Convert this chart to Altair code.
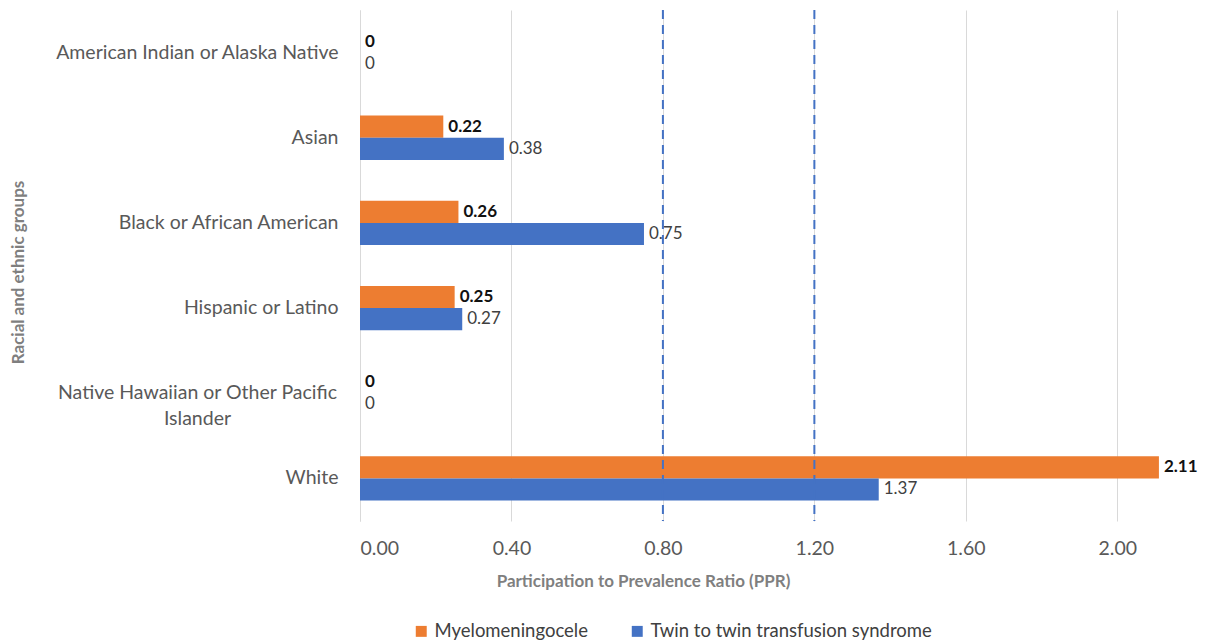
import altair as alt
import pandas as pd

groups = ["American Indian or Alaska Native", "Asian", "Black or African American",
          "Hispanic or Latino", "Native Hawaiian or Other Pacific Islander", "White"]
mmc = [0, 0.22, 0.26, 0.25, 0, 2.11]
ttts = [0, 0.38, 0.75, 0.27, 0, 1.37]
series = ["Myelomeningocele", "Twin to twin transfusion syndrome"]
colors = ["#ED7D31", "#4472C4"]
ref_lines = [0.8, 1.2]
x_ticks = [0, 0.4, 0.8, 1.2, 1.6, 2.0]

def fmt(v):
    return "0" if v == 0 else f"{v:.2f}"

rows = []
for g, a, b in zip(groups, mmc, ttts):
    rows.append({"group": g, "series": series[0], "value": a, "label": fmt(a)})
    rows.append({"group": g, "series": series[1], "value": b, "label": fmt(b)})
df = pd.DataFrame(rows)
ref_df = pd.DataFrame({"x": ref_lines})

FONT = "Lato"
NHPI = groups[4]

y_enc = alt.Y("group:N", sort=groups, title="Racial and ethnic groups",
              scale=alt.Scale(paddingInner=0.48, paddingOuter=0.24),
              axis=alt.Axis(
                  labelFontSize=19.5, labelColor="#595959", labelFont=FONT, labelLimit=0,
                  labelExpr=f"datum.value == '{NHPI}' ? ['Native Hawaiian or Other Pacific', 'Islander'] : datum.value",
                  labelAlign={"condition": {"test": f"datum.value == '{NHPI}'", "value": "center"}, "value": "right"},
                  labelPadding={"condition": {"test": f"datum.value == '{NHPI}'", "value": 163}, "value": 22},
                  labelLineHeight=26,
                  ticks=False, domain=True, domainColor="#D9D9D9", grid=False,
                  titleFont=FONT, titleFontSize=17, titleFontWeight="bold", titleColor="#7F7F7F",
                  titleX=-342, titleY=262, titleAngle=-90, titleAlign="center", titleBaseline="middle"))

x_scale = alt.Scale(domain=[0, 2.2], nice=False)
x_enc = alt.X("value:Q", scale=x_scale, title="Participation to Prevalence Ratio (PPR)",
              axis=alt.Axis(values=x_ticks, format=".2f", labelFontSize=19.5, labelColor="#595959",
                            labelFont=FONT, labelPadding=18, ticks=False, domain=False,
                            grid=True, gridColor="#D9D9D9",
                            titleFont=FONT, titleFontSize=17, titleFontWeight="bold",
                            titleColor="#7F7F7F", titleX=283, titleY=60,
                            titleAlign="center", titleBaseline="middle"))

bars = alt.Chart(df).mark_bar().encode(
    x=x_enc, y=y_enc,
    yOffset=alt.YOffset("series:N", sort=series),
    color=alt.Color("series:N", sort=series, scale=alt.Scale(domain=series, range=colors),
                    legend=alt.Legend(title=None, orient="none", direction="horizontal",
                                      legendX=52, legendY=612, symbolType="square",
                                      symbolSize=120, symbolStrokeWidth=0, labelFont=FONT,
                                      labelFontSize=18.5, labelColor="#404040", labelLimit=0,
                                      columnPadding=40, labelOffset=4)),
)

def label_layer(s, weight, color):
    return alt.Chart(df).transform_filter(alt.datum.series == s).mark_text(
        align="left", baseline="middle", dx=5, font=FONT, fontSize=17,
        fontWeight=weight, color=color
    ).encode(
        x=alt.X("value:Q", scale=x_scale),
        y=alt.Y("group:N", sort=groups),
        yOffset=alt.YOffset("series:N", sort=series, scale=alt.Scale(domain=series)),
        text="label:N",
    )

labels_a = label_layer(series[0], "bold", "#111111")
labels_b = label_layer(series[1], "normal", "#404040")

rules = alt.Chart(ref_df).mark_rule(color="#4472C4", strokeWidth=2, strokeDash=[9, 6]).encode(
    x=alt.X("x:Q", scale=x_scale)
)

chart = alt.layer(bars, labels_a, labels_b, rules).properties(
    width=833, height=511,
    background="white",
    autosize=alt.AutoSizeParams(type="none"),
    padding={"left": 360, "top": 10, "right": 22, "bottom": 122},
).configure_view(stroke=None)

chart.save("out.html", embed_options={"renderer": "svg", "actions": False})
